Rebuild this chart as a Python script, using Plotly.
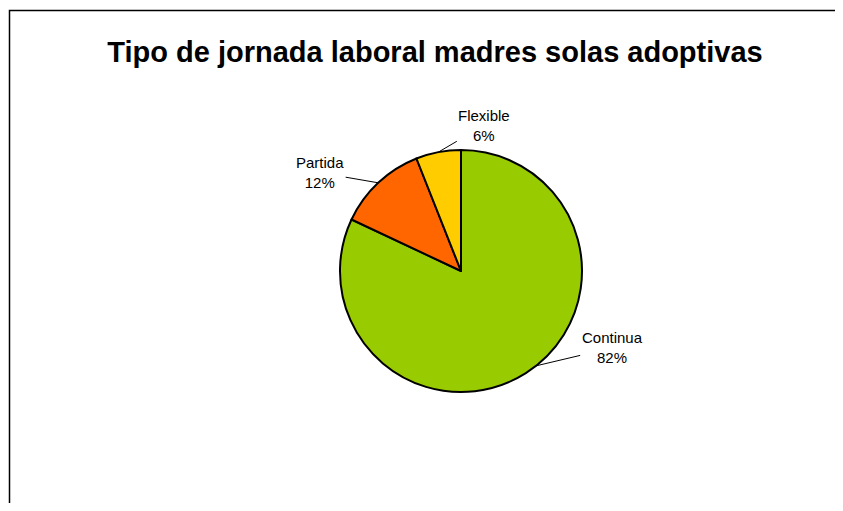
import math
import plotly.graph_objects as go

LABELS = ["Continua", "Partida", "Flexible"]
VALUES = [82, 12, 6]
COLORS = ["#99CC00", "#FF6600", "#FFCC00"]
TITLE = "Tipo de jornada laboral madres solas adoptivas"

# the page body has an 8px margin all round; keep the figure inside it so no scrollbars appear
OFF = 8
W, H = 843 - 2 * OFF, 511 - 2 * OFF
CX, CY, R = 461 - OFF, 271 - OFF, 121  # pie centre / radius in figure pixels
FONT = "Arial, Liberation Sans, sans-serif"

# where each label text sits, relative to the slice's edge (pixels)
LABEL_OFFSETS = {"Continua": (76, -18), "Partida": (-58, -10), "Flexible": (46, -27)}

fig = go.Figure(go.Pie(
    labels=LABELS,
    values=VALUES,
    sort=False,
    direction="clockwise",
    rotation=0,
    marker=dict(colors=COLORS, line=dict(color="black", width=2)),
    textinfo="none",
    hoverinfo="label+percent",
    showlegend=False,
    domain=dict(
        x=[(CX - R) / W, (CX + R) / W],
        y=[(H - CY - R) / H, (H - CY + R) / H],
    ),
))

# leader-line labels, tip on each slice's arc
total = sum(VALUES)
start = 0.0
annotations = []
for lab, val in zip(LABELS, VALUES):
    mid = (start + val / 2) / total * 360
    if lab == "Continua":
        mid -= 6  # Excel pulls this leader toward the label
    start += val
    ang = math.radians(90 - mid)
    px = CX + R * math.cos(ang)
    py = CY - R * math.sin(ang)
    ax, ay = LABEL_OFFSETS[lab]
    annotations.append(dict(
        x=px / W, y=1 - py / H, xref="paper", yref="paper",
        text=f"{lab}<br>{round(val / total * 100)}%",
        showarrow=True, arrowhead=0, arrowwidth=1, arrowcolor="black",
        ax=ax, ay=ay,
        font=dict(family=FONT, size=15, color="black"),
    ))

# chart-area frame: only the left and top edges fall inside the window
bx = (9.5 - OFF) / W
by = 1 - (10.5 - OFF) / H
fig.update_layout(
    width=W,
    height=H,
    paper_bgcolor="white",
    plot_bgcolor="white",
    margin=dict(t=0, b=0, l=0, r=0),
    title=dict(
        text=f"<b>{TITLE}</b>",
        x=(435 - OFF) / W, xanchor="center",
        y=1 - (52 - OFF) / H, yanchor="middle",
        font=dict(family=FONT, size=29, color="black"),
    ),
    annotations=annotations,
    shapes=[dict(
        type="path", xref="paper", yref="paper",
        path=f"M {bx},-0.1 L {bx},{by} L 1.1,{by}",
        line=dict(color="black", width=1.5),
    )],
)

fig.write_html("out.html")
